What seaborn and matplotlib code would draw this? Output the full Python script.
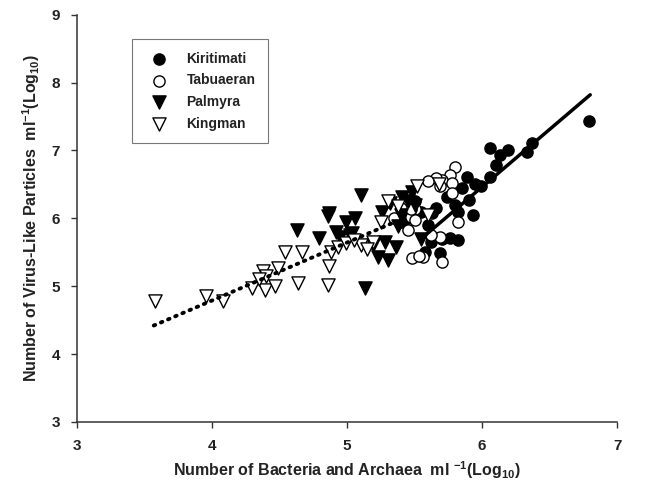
import numpy as np
import pandas as pd
import matplotlib
matplotlib.use('Agg')
import matplotlib.pyplot as plt
import seaborn as sns

# Log10 bacteria+archaea (x) vs log10 virus-like particles (y), per atoll
kiri_x = [6.79, 6.06, 6.19, 6.13, 6.37, 6.33, 6.10, 6.06, 5.99, 5.89, 5.95, 5.90, 5.93,
          5.82, 5.63, 5.74, 5.82, 5.76, 5.69, 5.41, 5.50, 5.55, 5.45, 5.60, 5.70, 5.80,
          5.85, 5.58, 5.62, 5.66]
kiri_y = [7.43, 7.04, 7.01, 6.93, 7.11, 6.97, 6.79, 6.61, 6.48, 6.61, 6.50, 6.27, 6.05,
          6.10, 6.08, 6.32, 5.68, 5.71, 5.49, 5.95, 6.25, 6.10, 6.00, 5.90, 5.70, 6.20,
          6.45, 5.50, 5.65, 6.15]

tabu_x = [5.80, 5.76, 5.70, 5.78, 5.78, 5.69, 5.50, 5.47, 5.50, 5.45, 5.82, 5.69,
          5.48, 5.56, 5.70, 5.47, 5.40, 5.35, 5.62, 5.66, 5.60, 5.53]
tabu_y = [6.76, 6.64, 6.57, 6.52, 6.38, 6.47, 6.13, 6.02, 5.98, 5.83, 5.94, 5.73,
          5.42, 5.43, 5.36, 6.13, 6.15, 6.00, 5.75, 6.60, 6.55, 5.45]

palm_x = [4.63, 4.79, 4.86, 4.99, 5.06, 4.95, 5.02, 5.04, 5.10, 5.13, 5.26, 5.32,
          5.19, 5.23, 5.30, 5.36, 5.41, 5.48, 5.28, 5.38, 4.87, 5.40, 5.55, 5.50,
          4.92, 5.45]
palm_y = [5.83, 5.71, 6.04, 5.95, 6.01, 5.73, 5.76, 5.79, 6.35, 4.98, 6.10, 6.23,
          5.61, 5.43, 5.39, 5.57, 6.31, 6.39, 5.65, 5.88, 6.08, 6.05, 5.70, 6.20,
          5.80, 6.25]

king_x = [3.58, 3.96, 4.08, 4.30, 4.38, 4.39, 4.40, 4.47, 4.49, 4.54, 4.67, 4.64,
          4.86, 4.87, 4.88, 4.93, 4.99, 5.19, 5.52, 5.30, 5.38, 5.25, 5.10, 5.15,
          5.05, 5.60, 5.68, 4.35]
king_y = [4.78, 4.85, 4.78, 4.98, 5.23, 4.94, 5.15, 5.00, 5.27, 5.50, 5.50, 5.05,
          5.02, 5.29, 5.50, 5.57, 5.64, 5.65, 6.47, 6.25, 6.18, 5.95, 5.60, 5.55,
          5.68, 6.05, 6.50, 5.10]

# fitted lines (end points)
kiri_fit_x = [5.55, 6.80]
kiri_fit_y = [5.70, 7.82]
king_fit_x = [3.57, 5.36]
king_fit_y = [4.42, 5.95]

sites = ['Kiritimati', 'Tabuaeran', 'Palmyra', 'Kingman']

df = pd.concat([
    pd.DataFrame({'x': kiri_x, 'y': kiri_y, 'site': 'Kiritimati'}),
    pd.DataFrame({'x': tabu_x, 'y': tabu_y, 'site': 'Tabuaeran'}),
    pd.DataFrame({'x': palm_x, 'y': palm_y, 'site': 'Palmyra'}),
    pd.DataFrame({'x': king_x, 'y': king_y, 'site': 'Kingman'}),
], ignore_index=True)

sns.set_style('ticks')
plt.rcParams['font.family'] = ['Liberation Sans', 'DejaVu Sans']
plt.rcParams['mathtext.fontset'] = 'custom'
plt.rcParams['mathtext.rm'] = 'Liberation Sans:bold'
plt.rcParams['mathtext.bf'] = 'Liberation Sans:bold'
plt.rcParams['mathtext.default'] = 'bf'

fig = plt.figure(figsize=(6.45, 4.9), dpi=100)
ax = fig.add_axes([0.119, 0.139, 0.838, 0.831])

styles = {
    'Kiritimati': dict(marker='o', facecolor='black', s=65),
    'Tabuaeran': dict(marker='o', facecolor='white', s=65),
    'Palmyra': dict(marker='v', facecolor='black', s=90),
    'Kingman': dict(marker='v', facecolor='white', s=90),
}
for site in sites:
    st = styles[site]
    sns.scatterplot(data=df[df.site == site], x='x', y='y', ax=ax,
                    marker=st['marker'], color=st['facecolor'], edgecolor='black',
                    linewidth=1.0, s=st['s'], label=site, zorder=3)

sns.lineplot(x=kiri_fit_x, y=kiri_fit_y, ax=ax, color='black', lw=2.5, zorder=4)
ax.plot(king_fit_x, king_fit_y, color='black', lw=2.8,
        linestyle=(0, (0.4, 1.6)), dash_capstyle='round', zorder=4)

ax.set_xlim(3, 7)
ax.set_ylim(3, 9)
ax.set_xticks([3, 4, 5, 6, 7])
ax.set_yticks([3, 4, 5, 6, 7, 8, 9])
sns.despine(ax=ax)
for sp in ['left', 'bottom']:
    ax.spines[sp].set_color('#333333')
    ax.spines[sp].set_linewidth(1.1)
ax.tick_params(direction='out', length=4, width=1, colors='#333333',
               labelcolor='#222222', labelsize=11, pad=8)
for lab in ax.get_xticklabels() + ax.get_yticklabels():
    lab.set_fontweight('bold')

ax.set_xlabel(r'Number of Bacteria and Archaea  ml $^{-1}$(Log$_{10}$)',
              fontsize=11.5, fontweight='bold', color='#222222', labelpad=5)
ax.set_ylabel(r'Number of Virus-Like Particles  ml$^{-1}$(Log$_{10}$)',
              fontsize=11.5, fontweight='bold', color='#222222', labelpad=7)

leg = ax.legend(loc='upper left', bbox_to_anchor=(0.103, 0.94), frameon=True,
                fancybox=False, edgecolor='#555555', fontsize=10,
                handletextpad=1.0, borderpad=0.9, labelspacing=0.55,
                borderaxespad=0)
leg.get_frame().set_linewidth(0.8)
for t in leg.get_texts():
    t.set_fontweight('bold')
    t.set_color('#222222')

fig.savefig('out.png', dpi=100)
